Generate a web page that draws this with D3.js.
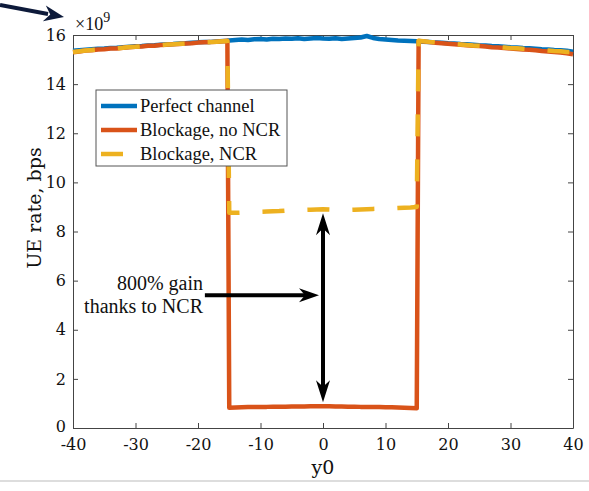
<!DOCTYPE html>
<html>
<head>
<meta charset="utf-8">
<script src="https://cdn.jsdelivr.net/npm/d3@7"></script>
<style>
  html, body { margin: 0; padding: 0; background: #fff; }
  svg { display: block; }
  text { font-family: "Liberation Serif", "Times New Roman", serif; fill: #111; }
</style>
</head>
<body>
<div id="chart"></div>
<script>
// Receiver position y0 (m)
const y0 = [
  -40, -39, -38, -37, -36, -35, -34, -33, -32, -31, -30, -29, -28, -27, -26, -25,
  -24, -23, -22, -21, -20, -19, -18, -17, -16, -15.3, -15,
  -14, -13, -12, -11, -10, -9, -8, -7, -6, -5, -4, -3, -2, -1, 0,
  1, 2, 3, 4, 5, 6, 7, 8, 9, 10, 11, 12, 13, 14, 15, 15.3,
  16, 17, 18, 19, 20, 21, 22, 23, 24, 25, 26, 27, 28, 29, 30, 31, 32,
  33, 34, 35, 36, 37, 38, 39, 40
];

// UE rate in units of 1e9 bps
const perfectChannel = [
  15.36, 15.38, 15.40, 15.42, 15.44, 15.45, 15.47, 15.48, 15.50, 15.52, 15.54, 15.55, 15.57, 15.58, 15.60, 15.62,
  15.63, 15.65, 15.66, 15.68, 15.70, 15.71, 15.72, 15.74, 15.76, 15.77, 15.78,
  15.80, 15.82, 15.80, 15.83, 15.84, 15.82, 15.85, 15.84, 15.86, 15.85, 15.87, 15.84, 15.86, 15.88, 15.86,
  15.85, 15.87, 15.84, 15.86, 15.88, 15.90, 15.96, 15.88, 15.84, 15.82, 15.80, 15.78, 15.77, 15.76, 15.75, 15.74,
  15.73, 15.72, 15.70, 15.68, 15.66, 15.65, 15.63, 15.62, 15.60, 15.58, 15.57, 15.55, 15.54, 15.52, 15.50, 15.49, 15.47,
  15.46, 15.44, 15.42, 15.41, 15.39, 15.38, 15.36, 15.32
];

const blockageNoNCR = [
  15.30, 15.33, 15.37, 15.38, 15.41, 15.42, 15.45, 15.45, 15.48, 15.50, 15.52, 15.53, 15.56, 15.56, 15.59, 15.60,
  15.62, 15.63, 15.65, 15.66, 15.69, 15.70, 15.71, 15.73, 15.75, 15.77, 0.82,
  0.83, 0.84, 0.85, 0.85, 0.86, 0.86, 0.87, 0.87, 0.87, 0.88, 0.88, 0.88, 0.89, 0.89, 0.89,
  0.89, 0.88, 0.88, 0.87, 0.87, 0.86, 0.86, 0.85, 0.85, 0.84, 0.84, 0.83, 0.82, 0.81, 0.80, 15.76,
  15.74, 15.71, 15.68, 15.66, 15.64, 15.62, 15.60, 15.58, 15.56, 15.55, 15.53, 15.50, 15.49, 15.47, 15.45, 15.43, 15.41,
  15.40, 15.38, 15.35, 15.33, 15.31, 15.29, 15.26, 15.22
];

const blockageNCR = [
  15.31, 15.34, 15.37, 15.39, 15.41, 15.43, 15.45, 15.46, 15.48, 15.51, 15.52, 15.54, 15.56, 15.57, 15.59, 15.61,
  15.62, 15.64, 15.65, 15.67, 15.69, 15.70, 15.71, 15.73, 15.75, 15.76, 8.76,
  8.76, 8.77, 8.78, 8.79, 8.80, 8.81, 8.82, 8.83, 8.85, 8.86, 8.87, 8.88, 8.89, 8.90, 8.91,
  8.90, 8.89, 8.88, 8.88, 8.89, 8.90, 8.91, 8.92, 8.93, 8.94, 8.95, 8.96, 8.97, 8.98, 9.00, 15.77,
  15.75, 15.72, 15.70, 15.67, 15.65, 15.63, 15.61, 15.59, 15.57, 15.56, 15.54, 15.52, 15.51, 15.49, 15.47, 15.46, 15.44,
  15.42, 15.41, 15.39, 15.37, 15.35, 15.34, 15.31, 15.30
];

const xTicks = [-40, -30, -20, -10, 0, 10, 20, 30, 40];
const yTicks = [0, 2, 4, 6, 8, 10, 12, 14, 16];

const seriesNames = ["Perfect channel", "Blockage, no NCR", "Blockage, NCR"];
const seriesColors = ["#0072BD", "#D95319", "#EDB120"];
const seriesDash = [null, null, "22,23"];
const seriesValues = [perfectChannel, blockageNoNCR, blockageNCR];

// Annotation: rate gain of NCR at y0 = 0
const gainLabel = ["800% gain", "thanks to NCR"];
const gainAt = 0;
const gainLow = 0.89;
const gainHigh = 8.91;
const pointerFrom = [-18.9, 5.4];

const W = 589, H = 491;
const margin = { left: 73, right: 16, top: 35, bottom: 63 };
const iw = W - margin.left - margin.right;
const ih = H - margin.top - margin.bottom;

const axisFont = '"DejaVu Serif", serif';

const svg = d3.select("#chart").append("svg")
  .attr("width", W).attr("height", H)
  .attr("viewBox", `0 0 ${W} ${H}`);

const x = d3.scaleLinear().domain([-40, 40]).range([margin.left, margin.left + iw]);
const y = d3.scaleLinear().domain([0, 16]).range([margin.top + ih, margin.top]);

// frame with inward ticks on all four sides
const axisColor = "#444";
const tickLen = 5;

const gx = svg.append("g").attr("transform", `translate(0,${y(0)})`)
  .call(d3.axisBottom(x).tickValues(xTicks).tickSizeInner(-tickLen).tickSizeOuter(0).tickPadding(10)
    .tickFormat(d => String(d)));
const gxTop = svg.append("g").attr("transform", `translate(0,${y(16)})`)
  .call(d3.axisTop(x).tickValues(xTicks).tickSizeInner(-tickLen).tickSizeOuter(0).tickFormat(""));
const gy = svg.append("g").attr("transform", `translate(${x(-40)},0)`)
  .call(d3.axisLeft(y).tickValues(yTicks).tickSizeInner(-tickLen).tickSizeOuter(0).tickPadding(7)
    .tickFormat(d => String(d)));
const gyRight = svg.append("g").attr("transform", `translate(${x(40)},0)`)
  .call(d3.axisRight(y).tickValues(yTicks).tickSizeInner(-tickLen).tickSizeOuter(0).tickFormat(""));

[gx, gxTop, gy, gyRight].forEach(g => {
  g.select(".domain").attr("stroke", axisColor).attr("stroke-width", 1);
  g.selectAll(".tick line").attr("stroke", axisColor).attr("stroke-width", 1);
  g.selectAll(".tick text").style("font-family", axisFont)
    .style("font-size", "16px").attr("fill", "#111");
});
gx.selectAll(".tick text").attr("dy", "0.75em");
// keep the origin label clear of the first x label
gy.selectAll(".tick text").filter(d => d === 0).attr("dy", "0.2em");

// exponent label
const expo = svg.append("text").attr("x", x(-40) + 2).attr("y", 30)
  .style("font-size", "18px").attr("fill", "#333");
expo.append("tspan").text("×10");
expo.append("tspan").attr("dy", -8).style("font-size", "14px").text("9");

// axis labels
svg.append("text")
  .attr("transform", `translate(${41},${208}) rotate(-90)`)
  .attr("text-anchor", "middle")
  .style("font-family", axisFont)
  .style("font-size", "19px")
  .text("UE rate, bps");
svg.append("text")
  .attr("x", x(0)).attr("y", 474)
  .attr("text-anchor", "middle")
  .style("font-family", axisFont)
  .style("font-size", "19px")
  .text("y0");

// series
const line = d3.line().x((d, i) => x(y0[i])).y(d => y(d));
const plot = svg.append("g");
seriesValues.forEach((vals, k) => {
  plot.append("path")
    .datum(vals)
    .attr("d", line)
    .attr("fill", "none")
    .attr("stroke", seriesColors[k])
    .attr("stroke-width", 4.5)
    .attr("stroke-linejoin", "round")
    .attr("stroke-dasharray", seriesDash[k]);
});

// legend
const lg = svg.append("g").attr("transform", "translate(96,90)");
lg.append("rect").attr("width", 191).attr("height", 76)
  .attr("fill", "#fff").attr("stroke", "#555").attr("stroke-width", 1);
seriesNames.forEach((name, k) => {
  const cy = 16 + k * 24;
  lg.append("line").attr("x1", 5).attr("x2", 41).attr("y1", cy).attr("y2", cy)
    .attr("stroke", seriesColors[k]).attr("stroke-width", 4.5)
    .attr("stroke-dasharray", seriesDash[k]);
  lg.append("text").attr("x", 44).attr("y", cy).attr("dy", "0.33em")
    .style("font-size", "18.5px").text(name);
});

// gain annotation
const ann = svg.append("g");
gainLabel.forEach((t, i) => {
  ann.append("text").attr("x", 203).attr("y", 290 + i * 23)
    .attr("text-anchor", "end").style("font-size", "20px").text(t);
});

function arrowHead(g, tipX, tipY, angle, len, half) {
  const a = angle * Math.PI / 180;
  const bx = tipX - len * Math.cos(a), by = tipY - len * Math.sin(a);
  const nx = -Math.sin(a) * half, ny = Math.cos(a) * half;
  const notchX = tipX - len * 0.7 * Math.cos(a), notchY = tipY - len * 0.7 * Math.sin(a);
  g.append("path")
    .attr("d", `M${tipX},${tipY} L${bx + nx},${by + ny} L${notchX},${notchY} L${bx - nx},${by - ny} Z`)
    .attr("fill", "#000");
}

// horizontal pointer
const px0 = x(pointerFrom[0]), pyy = y(pointerFrom[1]);
const pTip = x(gainAt) - 4;
ann.append("line").attr("x1", px0).attr("x2", pTip - 8).attr("y1", pyy).attr("y2", pyy)
  .attr("stroke", "#000").attr("stroke-width", 4);
arrowHead(ann, pTip, pyy, 0, 20, 7);

// vertical double arrow between the two rates
const vx = x(gainAt);
const vTop = y(gainHigh) + 4, vBot = y(gainLow) - 4;
ann.append("line").attr("x1", vx).attr("x2", vx).attr("y1", vTop + 10).attr("y2", vBot - 10)
  .attr("stroke", "#000").attr("stroke-width", 4);
arrowHead(ann, vx, vTop, -90, 22, 7);
arrowHead(ann, vx, vBot, 90, 22, 7);

// pointer to the exponent
const nav = svg.append("g");
nav.append("line").attr("x1", 0).attr("y1", 5).attr("x2", 48).attr("y2", 14)
  .attr("stroke", "#0d1a3a").attr("stroke-width", 4);
arrowHead(nav, 64, 17, Math.atan2(12, 64) * 180 / Math.PI, 20, 8);
nav.selectAll("path").attr("fill", "#0d1a3a");

// page rule at the foot
svg.append("line").attr("x1", 0).attr("x2", W).attr("y1", 481).attr("y2", 481)
  .attr("stroke", "#bbb").attr("stroke-width", 1);
</script>
</body>
</html>
